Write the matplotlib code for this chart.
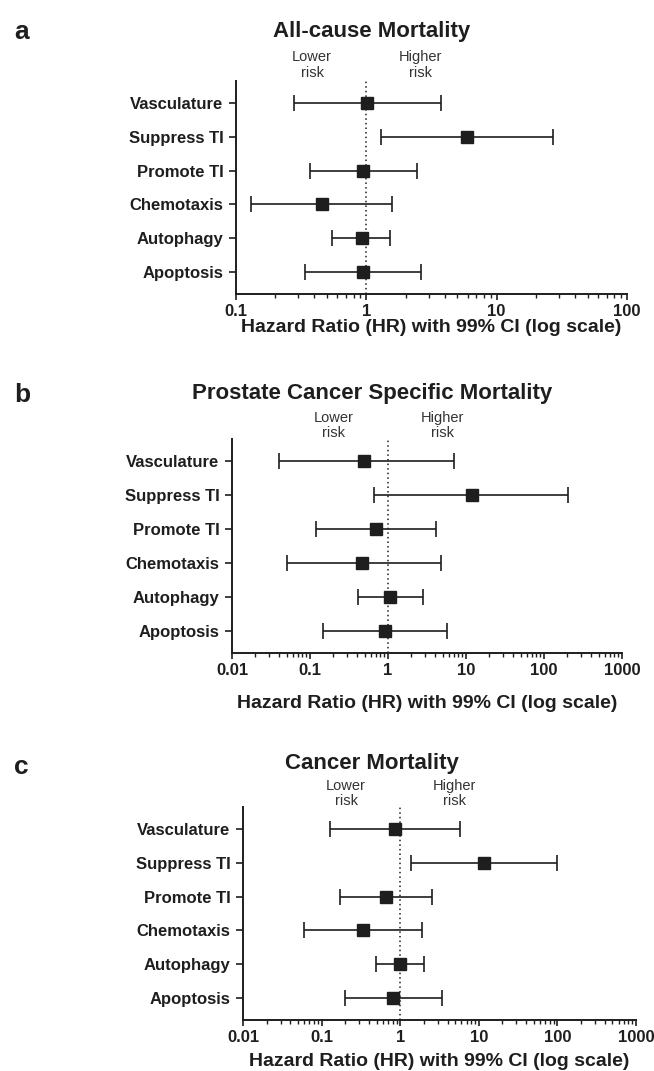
import matplotlib
matplotlib.use("Agg")
import matplotlib.pyplot as plt
from matplotlib import font_manager
import numpy as np

plt.rcParams['font.family'] = ['Liberation Sans', 'DejaVu Sans']

categories = ["Vasculature", "Suppress TI", "Promote TI", "Chemotaxis", "Autophagy", "Apoptosis"]

# Panel a: All-cause mortality
a_hr = [1.02, 5.97, 0.95, 0.46, 0.92, 0.94]
a_lo = [0.28, 1.30, 0.37, 0.13, 0.55, 0.34]
a_hi = [3.77, 27.2, 2.43, 1.56, 1.52, 2.64]

# Panel b: Prostate cancer specific mortality
b_hr = [0.49, 11.9, 0.70, 0.46, 1.06, 0.91]
b_lo = [0.040, 0.67, 0.119, 0.050, 0.41, 0.148]
b_hi = [6.98, 206.0, 4.07, 4.75, 2.77, 5.79]

# Panel c: Cancer mortality
c_hr = [0.865, 11.7, 0.653, 0.336, 1.00, 0.82]
c_lo = [0.129, 1.38, 0.169, 0.059, 0.498, 0.197]
c_hi = [5.74, 99.0, 2.52, 1.91, 2.01, 3.45]

a_ticks = [0.1, 1, 10, 100]
a_ticklabels = ["0.1", "1", "10", "100"]
bc_ticks = [0.01, 0.1, 1, 10, 100, 1000]
bc_ticklabels = ["0.01", "0.1", "1", "10", "100", "1000"]

titles = ["All-cause Mortality", "Prostate Cancer Specific Mortality", "Cancer Mortality"]
letters = ["a", "b", "c"]
xlabel = "Hazard Ratio (HR) with 99% CI (log scale)"

# narrow font for the risk annotations if available
available = {f.name for f in font_manager.fontManager.ttflist}
narrow = ['Liberation Sans Narrow'] if 'Liberation Sans Narrow' in available else []
risk_family = narrow + ['Liberation Sans', 'DejaVu Sans']
risk_size = 11 if narrow else 10.5

W, H = 654, 1071
fig = plt.figure(figsize=(W / 100, H / 100), dpi=100)
DARK = "#1e1e1e"


def rect(l, t, r, b):
    return [l / W, 1 - b / H, (r - l) / W, (b - t) / H]


panels = [
    dict(box=(236, 81, 627, 294), hr=a_hr, lo=a_lo, hi=a_hi, ticks=a_ticks, tl=a_ticklabels,
         title_y=31, letter_y=32, xlabel_y=327, risk_dy=1),
    dict(box=(232, 439, 622, 653), hr=b_hr, lo=b_lo, hi=b_hi, ticks=bc_ticks, tl=bc_ticklabels,
         title_y=393, letter_y=395, xlabel_y=703, risk_dy=-1),
    dict(box=(243, 807, 636, 1020), hr=c_hr, lo=c_lo, hi=c_hi, ticks=bc_ticks, tl=bc_ticklabels,
         title_y=764, letter_y=767, xlabel_y=1062, risk_dy=-1),
]

for i, p in enumerate(panels):
    ax = fig.add_axes(rect(*p["box"]))
    hr = np.array(p["hr"])
    lo = np.array(p["lo"])
    hi = np.array(p["hi"])
    y = np.arange(len(categories))[::-1]
    ax.errorbar(hr, y, xerr=[hr - lo, hi - hr], fmt='s', color=DARK, ecolor=DARK,
                markersize=8, elinewidth=1.2, capsize=6, capthick=1.2, zorder=3)
    ax.axvline(1, color=DARK, linestyle=(0, (1, 2)), linewidth=1.1, zorder=1)
    ax.set_xscale('log')
    ax.set_xlim(p["ticks"][0], p["ticks"][-1])
    ax.set_ylim(-0.65, len(categories) - 0.35)
    ax.set_yticks(y)
    ax.set_yticklabels(categories, fontsize=12, fontweight='bold', color=DARK)
    ax.set_xticks(p["ticks"])
    ax.set_xticklabels(p["tl"], fontsize=12, fontweight='bold', color=DARK)
    ax.tick_params(axis='x', which='major', length=4, width=1.2, color=DARK, pad=3)
    ax.tick_params(axis='x', which='minor', length=3, width=1.0, color=DARK)
    ax.tick_params(axis='y', length=5, width=1.2, color=DARK, pad=4)
    for s in ['top', 'right']:
        ax.spines[s].set_visible(False)
    for s in ['left', 'bottom']:
        ax.spines[s].set_linewidth(1.4)
        ax.spines[s].set_color(DARK)

    l, t, r, b = p["box"]
    fig.text((l + r) / 2 / W, 1 - p["xlabel_y"] / H, xlabel, ha='center', va='center',
             fontsize=14, fontweight='bold', color=DARK)
    fig.text(372 / W, 1 - p["title_y"] / H, titles[i], ha='center', va='center',
             fontsize=16, fontweight='bold', color=DARK)
    fig.text(14 / W, 1 - p["letter_y"] / H, letters[i], ha='left', va='center',
             fontsize=19, fontweight='bold', color=DARK)

    for txt, dx in (("Lower\nrisk", -39), ("Higher\nrisk", 39)):
        ax.annotate(txt, xy=(1, 1), xycoords=ax.get_xaxis_transform(),
                    xytext=(dx, p["risk_dy"]), textcoords='offset points', ha='center',
                    va='bottom', fontsize=risk_size, color="#333333", linespacing=1.15,
                    family=risk_family, annotation_clip=False)

fig.savefig("out.png", dpi=100)
